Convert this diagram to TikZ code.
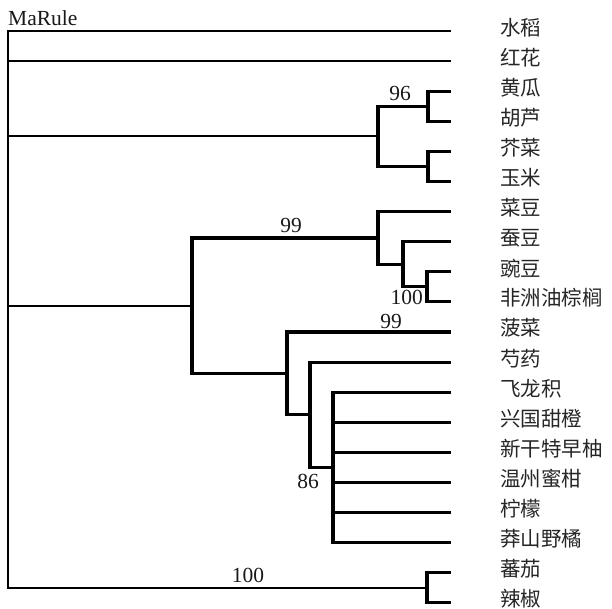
\documentclass[tikz,border=0pt]{standalone}
\usepackage{fontspec}
\setmainfont{Liberation Serif}
\newfontfamily\cjk{Noto Sans CJK SC}
\tikzset{
  taxon/.style={anchor=west, inner sep=0pt, font=\cjk\fontsize{20.5}{22}\selectfont, text=black!85},
  support/.style={inner sep=0pt, font=\fontsize{21.5}{24}\selectfont, text=black!90},
  rootline/.style={line width=2.2pt, line join=miter},
  branch/.style={line width=3.1pt, line join=miter},
}
\begin{document}
\begin{tikzpicture}[x=1pt, y=-1pt]
\useasboundingbox (0,0) rectangle (612,609);

% taxa: labels and branch tips
\foreach \i/\t in {0/水稻,1/红花,2/黄瓜,3/胡芦,4/芥菜,5/玉米,6/菜豆,7/蚕豆,
  8/豌豆,9/非洲油棕榈,10/菠菜,11/芍药,12/飞龙积,13/兴国甜橙,14/新干特早柚,
  15/温州蜜柑,16/柠檬,17/莽山野橘,18/蕃茄,19/辣椒}{
  \node[taxon] (t\i) at (500,{28+30.02*\i}) {\t};
  \coordinate (e\i) at (451,{31+30.1*\i});
}

% internal nodes
\coordinate (root) at (8,309.5);
\coordinate (cuc)  at (428,106.2);
\coordinate (bra)  at (428,166.5);
\coordinate (cb)   at (378,136.4);
\coordinate (pp)   at (427,286.9);
\coordinate (vp)   at (403,264.3);
\coordinate (leg)  at (378,238);
\coordinate (cit)  at (333,467.5);
\coordinate (pae)  at (310,414.8);
\coordinate (spi)  at (287,373.4);
\coordinate (big)  at (192,305.7);
\coordinate (sol)  at (427,587.9);

% root level
\foreach \c in {e0,e1,cb,big,sol} \draw[rootline] (root) |- (\c);

% clades
\draw[branch] (cb) |- (cuc);
\draw[branch] (cb) |- (bra);
\draw[branch] (cuc) |- (e2);
\draw[branch] (cuc) |- (e3);
\draw[branch] (bra) |- (e4);
\draw[branch] (bra) |- (e5);

\draw[branch] (big) |- (leg);
\draw[branch] (big) |- (spi);
\draw[branch] (leg) |- (e6);
\draw[branch] (leg) |- (vp);
\draw[branch] (vp) |- (e7);
\draw[branch] (vp) |- (pp);
\draw[branch] (pp) |- (e8);
\draw[branch] (pp) |- (e9);

\draw[branch] (spi) |- (e10);
\draw[branch] (spi) |- (pae);
\draw[branch] (pae) |- (e11);
\draw[branch] (pae) |- (cit);
\foreach \k in {12,...,17} \draw[branch] (cit) |- (e\k);

\draw[branch] (sol) |- (e18);
\draw[branch] (sol) |- (e19);

% labels
\node[support, anchor=south west] (title) at (8,26) {MaRule};
\node[support] (b96)  at (400,93) {96};
\node[support] (b99a) at (291,225) {99};
\node[support, anchor=east] (b100a) at (423,297) {100};
\node[support] (b99b) at (391,321) {99};
\node[support] (b86)  at (308,481) {86};
\node[support] (b100b) at (248,575) {100};
\end{tikzpicture}
\end{document}
